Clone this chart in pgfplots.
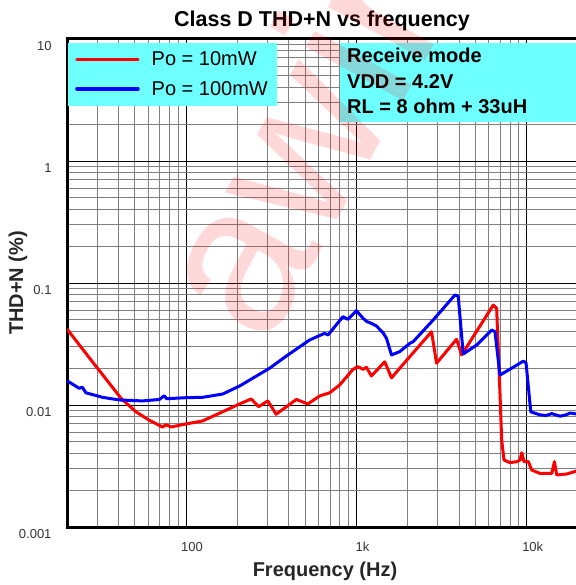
\documentclass[border=0pt]{standalone}
\usepackage{fontspec}
\setmainfont{Liberation Sans}
\usepackage{pgfplots}
\pgfplotsset{compat=1.18}
\definecolor{boxcyan}{RGB}{110,255,255}
\definecolor{mgray}{RGB}{128,128,128}
\begin{document}
\begin{tikzpicture}[x=1bp,y=1bp]
\begin{axis}[
  at={(67bp,58bp)}, anchor=south west,
  scale only axis, width=511bp, height=488bp,
  xmode=log, ymode=log,
  xmin=20, xmax=20000, ymin=0.001, ymax=10,
  xtick={100,1000,10000}, xticklabels={100,1k,10k},
  ytick={0.001,0.01,0.1,1,10}, yticklabels={0.001,0.01,0.1,1,10},
  minor xtick={30,40,50,60,70,80,90,200,300,400,500,600,700,800,900,2000,3000,4000,5000,6000,7000,8000,9000},
  minor ytick={0.002,0.003,0.004,0.005,0.006,0.007,0.008,0.009,0.02,0.03,0.04,0.05,0.06,0.07,0.08,0.09,0.2,0.3,0.4,0.5,0.6,0.7,0.8,0.9,2,3,4,5,6,7,8,9},
  grid=both,
  major grid style={black, line width=0.9bp},
  minor grid style={mgray, line width=0.9bp},
  major tick length=0pt, minor tick length=0pt,
  axis line style={line width=3bp},
  /pgf/number format/assume math mode=true,
  ticklabel style={font=\fontsize{13bp}{15bp}\selectfont, color=black!80},
  xticklabel style={xshift=6bp, yshift=-12bp},
  yticklabel style={xshift=-12bp, yshift=-7bp},
  legend style={at={(0.002,0.993)}, anchor=north west, fill=boxcyan, draw=none,
    inner xsep=7bp, inner ysep=7bp, row sep=10bp, column sep=10bp,
    font=\fontsize{20bp}{24bp}\selectfont, cells={anchor=west}},
  legend image code/.code={\draw[#1, line width=3.5bp, line cap=round] (0bp,0bp) -- (61bp,0bp);},
]
\addplot[red, line width=3bp, line join=round] table {
20 0.042
28.2 0.0226
35.4 0.0151
41.5 0.01135
50.8 0.0088
60.8 0.0075
72.8 0.0066
76.3 0.0069
81.6 0.0066
100 0.0070
125 0.0074
164 0.0088
206 0.0102
241 0.0112
267 0.0097
302 0.0108
338 0.0084
444 0.0111
519 0.0102
608 0.01185
697 0.0126
798 0.0146
955 0.0196
1022 0.0206
1094 0.0196
1145 0.0204
1225 0.0173
1467 0.0226
1607 0.0167
2058 0.0249
2762 0.0399
2955 0.0220
3875 0.0346
4146 0.0257
6362 0.066
6660 0.062
6965 0.0125
7127 0.0052
7354 0.00354
7976 0.00337
8733 0.00343
9133 0.00354
9346 0.00406
9641 0.00343
10220 0.00343
10700 0.00293
11970 0.00275
14030 0.00275
14540 0.00343
15010 0.00267
17190 0.00272
20000 0.0029
};
\addlegendentry{Po = 10mW}
\addplot[blue, line width=3bp, line join=round] table {
20 0.0158
23.6 0.0137
24.6 0.0140
25.8 0.0126
32.3 0.01156
40.5 0.0110
55.5 0.0108
69.7 0.0111
74.5 0.0119
76.9 0.01126
100 0.01148
125 0.01156
164 0.0123
206 0.0143
236 0.0160
309 0.0200
388 0.0252
531 0.0341
651 0.0387
681 0.0375
834 0.0530
892 0.0504
1000 0.0593
1094 0.0514
1154 0.0482
1225 0.0467
1311 0.0444
1434 0.0391
1502 0.0352
1607 0.0257
1797 0.0274
2058 0.0320
2152 0.0330
2822 0.0497
3787 0.0797
3960 0.0782
4238 0.0262
5078 0.0310
6225 0.0412
6510 0.0399
6965 0.0176
8341 0.0204
9550 0.0229
9906 0.0222
10560 0.0088
11970 0.0083
13000 0.0082
14000 0.0085
15700 0.0081
17000 0.0083
18000 0.0086
20000 0.0084
};
\addlegendentry{Po = 100mW}
\end{axis}
\fill[boxcyan] (340bp,463bp) rectangle (580bp,542bp);
\node[anchor=north west, inner sep=0pt, align=left, font=\bfseries\fontsize{20bp}{25.5bp}\selectfont] at (347bp,537bp) {Receive mode\\VDD = 4.2V\\RL = 8 ohm + 33uH};
\node[font=\bfseries\fontsize{21.5bp}{24bp}\selectfont] at (322bp,564bp) {Class D THD+N vs frequency};
\node[font=\bfseries\fontsize{20bp}{24bp}\selectfont, color=black!85] at (325bp,14bp) {Frequency (Hz)};
\node[rotate=90, font=\bfseries\fontsize{20bp}{24bp}\selectfont, color=black!85] at (18bp,302bp) {THD+N (\%)};
\node[rotate=61, font=\fontsize{210bp}{212bp}\selectfont, text=red, opacity=0.15] at (342bp,528bp) {awinic};
\pgfresetboundingbox
\useasboundingbox (0,0) rectangle (576bp,585bp);
\end{tikzpicture}
\end{document}
